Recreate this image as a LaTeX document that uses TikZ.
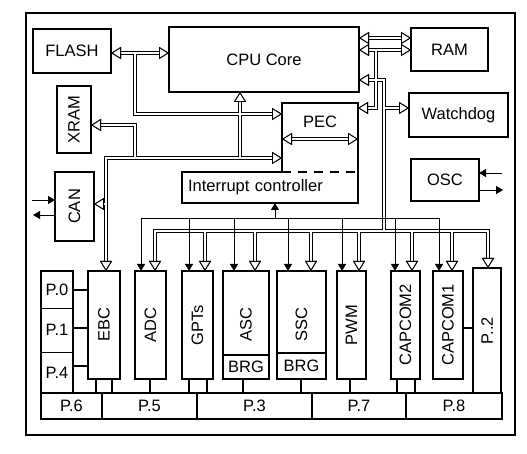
\documentclass[tikz,border=0pt]{standalone}
\usepackage{fontspec}
\setmainfont{Liberation Sans}
\usepackage{graphicx}
\usetikzlibrary{arrows.meta, positioning, calc}
\pgfdeclarelayer{hull}
\pgfsetlayers{hull,main}
\newcommand{\vtxt}[1]{\rotatebox{90}{#1}}
\newcommand{\bus}[2][]{%
  \begin{pgfonlayer}{hull}\draw[busout,#1] #2;\end{pgfonlayer}%
  \draw[busin,#1] #2;}

\begin{document}
\begin{tikzpicture}[x=1pt, y=-1pt, font=\fontsize{16.5}{19}\selectfont,
  hol/.tip={Triangle[length=10pt, width=12pt, line width=0.9pt, color=black, fill=white]},
  fil/.tip={Triangle[length=7pt, width=8pt]},
  box/.style={draw, line width=1.6pt, inner sep=0pt, outer sep=0pt},
  cell/.style={draw, line width=1pt, inner sep=0pt, outer sep=0pt},
  mod/.style={box, minimum height=108pt},
  rim/.style={line width=1.6pt},
  busout/.style={line width=4.2pt, draw=black},
  busin/.style={line width=2.4pt, draw=white},
  wire/.style={line width=0.8pt},
  irq/.style={line width=0.8pt, -fil},
  link/.style={line width=1.4pt}]
  \useasboundingbox (0,0) rectangle (527,454);
  \draw[line width=1.8pt] (26,13) rectangle (515,435);

  % upper blocks
  \node[box, minimum width=78pt, minimum height=44pt] (flash) at (72,51) {FLASH};
  \node[box, minimum width=190pt, minimum height=65pt] (cpu) at (264,59.5) {CPU Core};
  \node[box, minimum width=77pt, minimum height=43pt] (ram) at (449.5,49.5) {RAM};
  \node[box, minimum width=99pt, minimum height=44pt] (wdog) at (458.5,115) {Watchdog};
  \node[box, minimum width=68pt, minimum height=42pt] (osc) at (445,180) {OSC};
  \node[box, minimum width=34pt, minimum height=67pt] (xram) at (74,119.5) {\vtxt{XRAM}};
  \node[box, minimum width=39pt, minimum height=69pt] (can) at (74.5,206.5) {\vtxt{CAN}};
  \node[minimum width=76pt, minimum height=69pt, inner sep=0pt, outer sep=0pt,
    text height=12pt, text depth=31pt] (pec) at (320,137.5) {PEC};
  \node[minimum width=176pt, minimum height=31pt, text width=164pt, inner xsep=6pt,
    inner ysep=0pt, outer sep=0pt, align=left] (intc) at (270,187.5) {Interrupt controller};
  \draw[rim] (pec.south west) -- (pec.north west) -- (pec.north east) -- (pec.south east);
  \draw[rim, dash pattern=on 9pt off 7pt] (pec.south west) -- (pec.south east);
  \draw[rim] (pec.south west) -- (intc.north west) -- (intc.south west) -- (intc.south east) -- (pec.south east);

  % peripherals
  \node[mod, minimum width=32pt] (ebc) at (104,325) {\vtxt{EBC}};
  \node[mod, minimum width=31pt, right=15pt of ebc] (adc) {\vtxt{ADC}};
  \node[mod, minimum width=31pt, right=16pt of adc] (gpts) {\vtxt{GPTs}};
  \node[mod, minimum width=46pt, right=10pt of gpts] (asc) {\vtxt{ASC}};
  \node[mod, minimum width=49pt, right=8pt of asc] (ssc) {\vtxt{SSC}};
  \node[mod, minimum width=29pt, right=11pt of ssc] (pwm) {\vtxt{PWM}};
  \node[mod, minimum width=29pt, right=25pt of pwm] (capb) {\vtxt{CAPCOM2}};
  \node[mod, minimum width=30pt, right=13pt of capb] (capa) {\vtxt{CAPCOM1}};
  \node[box, minimum width=28pt, minimum height=125pt] (p2) at (487,330.5) {\vtxt{P..2}};
  \node[box, anchor=south, minimum width=46pt, minimum height=24pt] (ascbrg) at (asc.south) {BRG};
  \node[box, anchor=south, minimum width=49pt, minimum height=26pt] (sscbrg) at (ssc.south) {BRG};

  % ports
  \node[cell, minimum width=32pt, minimum height=37pt] (p0) at (57,289.5) {P.0};
  \node[cell, minimum width=32pt, minimum height=44pt, below=0pt of p0] (p1) {P.1};
  \node[cell, minimum width=32pt, minimum height=41pt, below=0pt of p1] (p4) {P.4};
  \draw[rim] (p0.north west) rectangle (p4.south east);
  \node[box, minimum width=61pt, minimum height=26pt] (p6) at (71.5,406) {P.6};
  \node[box, minimum width=95pt, minimum height=26pt, right=0pt of p6] (p5) {P.5};
  \node[box, minimum width=115pt, minimum height=26pt, right=0pt of p5] (p3) {P.3};
  \node[box, minimum width=94pt, minimum height=26pt, right=0pt of p3] (p7) {P.7};
  \node[box, minimum width=96pt, minimum height=26pt, right=0pt of p7] (p8) {P.8};

  % buses
  \coordinate (fl) at (135,53);
  \coordinate (pa) at (135,114);
  \coordinate (xr) at (135,125);
  \coordinate (hb) at (135,158);
  \coordinate (lb) at (106,158);
  \coordinate (cu) at (240,158);
  \coordinate (cn) at (106,204);
  \coordinate (pm) at (320,139);
  \coordinate (m1) at (385,38);
  \coordinate (ra) at (376,50);
  \coordinate (rb) at (376,108);
  \coordinate (rc) at (384,80);
  \coordinate (rd) at (384,231);
  \coordinate (bl) at (155,231);
  \coordinate (br) at (488,231);
  \bus[{hol}-{hol}]{(flash.east |- fl) -- (cpu.west |- fl)}
  \bus[-{hol}]{(fl) -- (pa) -- (pa -| pec.west)}
  \bus[-{hol}]{(hb) -- (xr) -- (xr -| xram.east)}
  \bus[{hol}-{hol}]{(ebc.north -| lb) -- (lb) -- (lb -| pec.west)}
  \bus[-{hol}]{(cn) -- (cn -| can.east)}
  \bus[-{hol}]{(cu) -- (cu |- cpu.south)}
  \bus[{hol}-{hol}]{(pm -| pec.west) -- (pm -| pec.east)}
  \bus[{hol}-{hol}]{(cpu.east |- m1) -- (ram.west |- m1)}
  \bus[{hol}-{hol}]{(cpu.east |- ra) -- (ram.west |- ra)}
  \bus[-{hol}]{(ra) -- (rb) -- (rb -| pec.east)}
  \bus[-{hol}]{(rd) -- (rc) -- (rc -| cpu.east)}
  \bus[-{hol}]{(rc |- rb) -- (rb -| wdog.west)}
  \bus[{hol}-{hol}]{(adc.north -| bl) -- (bl) -- (br) -- (br |- p2.north)}
  \foreach \m/\x in {gpts/205, asc/255, ssc/311, pwm/359, capb/412, capa/452} {
    \coordinate (t) at (\x,231);
    \bus[-{hol}]{(t) -- (t |- \m.north)}
  }

  % interrupt lines
  \coordinate (il) at (141,218);
  \coordinate (ir) at (439,218);
  \coordinate (iu) at (275,218);
  \draw[wire] (il) -- (ir);
  \draw[irq] (iu) -- (iu |- intc.south);
  \foreach \m/\x in {adc/141, gpts/189, asc/234, ssc/288, pwm/342, capb/395, capa/439} {
    \coordinate (t) at (\x,218);
    \draw[irq] (t) -- (t |- \m.north);
  }

  % port links
  \foreach \p/\y in {p0/290, p1/328, p4/366} {
    \coordinate (t) at (80,\y);
    \draw[link] (t -| \p.east) -- (t -| ebc.west);
  }
  \foreach \m/\x/\r in {ebc/96/p6, ebc/112/p5, adc/150/p5, gpts/189/p5, gpts/207/p3,
      ascbrg/243/p3, sscbrg/301/p3, pwm/350/p7, capb/397/p7, capb/415/p8} {
    \coordinate (t) at (\x,0);
    \draw[link] (t |- \m.south) -- (t |- \r.north);
  }
  \coordinate (cp) at (468,328);
  \draw[link] (cp -| capa.east) -- (cp -| p2.west);

  % external pins
  \coordinate (ca) at (32,200);
  \coordinate (cb) at (33,215);
  \coordinate (oa) at (502,173);
  \coordinate (ob) at (503,190);
  \draw[wire, -fil] (ca) -- (ca -| can.west);
  \draw[wire, -fil] (cb -| can.west) -- (cb);
  \draw[wire, -fil] (oa) -- (oa -| osc.east);
  \draw[wire, -fil] (ob -| osc.east) -- (ob);
\end{tikzpicture}
\end{document}
